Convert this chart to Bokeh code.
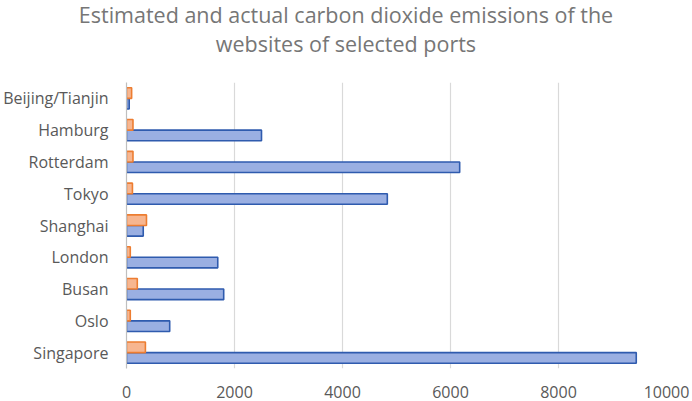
from bokeh.plotting import figure
from bokeh.models import FactorRange, Range1d, FixedTicker, Div
from bokeh.layouts import column
from bokeh.transform import dodge
from bokeh.embed import file_html
from bokeh.resources import INLINE

ports = ["Beijing/Tianjin", "Hamburg", "Rotterdam", "Tokyo", "Shanghai",
         "London", "Busan", "Oslo", "Singapore"]
estimated = [50, 2500, 6170, 4830, 310, 1690, 1800, 800, 9440]
actual = [95, 120, 120, 110, 370, 70, 200, 70, 350]
x_ticks = [0, 2000, 4000, 6000, 8000, 10000]
title_lines = ["Estimated and actual carbon dioxide emissions of the",
               "websites of selected ports"]

title_div = Div(
    text=("<div style=\"width:686px; margin-top:0px; padding-left:6px; "
          "line-height:29px; text-align:center; font-family:'Open Sans'; "
          "font-size:21.5px; color:#767676; white-space:nowrap;\">"
          + "<br>".join(title_lines) + "</div>"),
    width=692, height=78, margin=(0, 0, 0, 0))

p = figure(width=692, height=323, output_backend="svg", toolbar_location=None,
           y_range=FactorRange(factors=list(reversed(ports)), range_padding=0),
           x_range=Range1d(0, 10000),
           min_border_left=124, min_border_right=26,
           min_border_bottom=33, min_border_top=4, margin=(0, 0, 0, 0))
p.title = None

src = dict(port=ports, est=estimated, act=actual)
p.hbar(y=dodge("port", -1/6, range=p.y_range), right="est", left=0, height=1/3,
       source=src, fill_color="#9AAFE2", line_color="#2F5BAE", line_width=1.6)
p.hbar(y=dodge("port", 1/6, range=p.y_range), right="act", left=0, height=1/3,
       source=src, fill_color="#F7B690", line_color="#ED7D31", line_width=1.6)

p.outline_line_color = None
p.background_fill_color = "white"
p.ygrid.grid_line_color = None
p.xgrid.grid_line_color = "#D9D9D9"
p.xgrid.grid_line_width = 1.2
p.xaxis.ticker = FixedTicker(ticks=x_ticks)
p.xaxis.axis_line_color = None
p.xaxis.major_tick_line_color = None
p.xaxis.minor_tick_line_color = None
p.xaxis.major_label_standoff = 11
p.yaxis.axis_line_color = "#BFBFBF"
p.yaxis.axis_line_width = 1.2
p.yaxis.major_tick_line_color = None
p.yaxis.minor_tick_line_color = None
p.yaxis.major_label_standoff = 12
for ax in (p.xaxis, p.yaxis):
    ax.major_label_text_font = "Open Sans"
    ax.major_label_text_font_size = "16px"
    ax.major_label_text_color = "#595959"

layout = column(title_div, p, spacing=0)
open("out.html", "w").write(file_html(layout, INLINE))
